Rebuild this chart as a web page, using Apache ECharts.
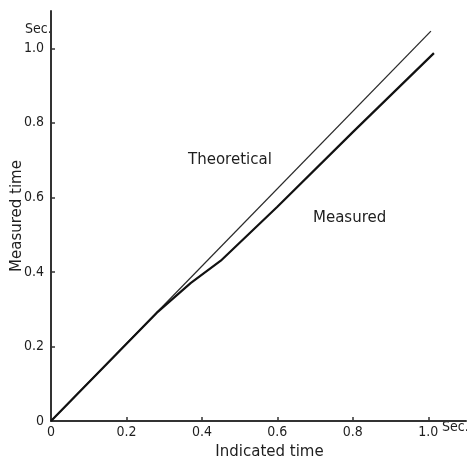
<!DOCTYPE html>
<html>
<head>
<meta charset="utf-8">
<script src="https://cdn.jsdelivr.net/npm/echarts@6/dist/echarts.min.js"></script>
<style>
html,body{margin:0;padding:0;background:#fff;}
#chart{width:467px;height:458px;}
</style>
</head>
<body>
<div id="chart"></div>
<script>
// Data
var xTicks = [0, 0.2, 0.4, 0.6, 0.8, 1.0];
var yTicks = [0.2, 0.4, 0.6, 0.8, 1.0];
var theoreticalX = [0, 1.007];
var theoreticalY = [0, 1.046];
var measuredX = [0, 0.28, 0.37, 0.45, 0.60, 0.80, 1.015];
var measuredY = [0, 0.29, 0.37, 0.43, 0.575, 0.775, 0.987];

function pairs(xs, ys) { return xs.map(function (x, i) { return [x, ys[i]]; }); }

var ink = '#1e1e1e';
var font = '"DejaVu Sans Condensed", "Liberation Sans Narrow", "DejaVu Sans", sans-serif';
var wideFont = '"DejaVu Sans", sans-serif';

var chart = echarts.init(document.getElementById('chart'));
chart.setOption({
  animation: false,
  backgroundColor: '#ffffff',
  grid: { left: 51, right: 1, top: 11, bottom: 37, containLabel: false, outerBoundsMode: 'none' },
  xAxis: {
    type: 'value', min: 0, max: 1.1,
    name: 'Indicated time', nameLocation: 'middle', nameGap: 24, nameMoveOverlap: false,
    nameTextStyle: { color: ink, fontSize: 15, fontFamily: wideFont, padding: [0, 0, 0, 22] },
    axisLine: { lineStyle: { color: '#333', width: 2 } },
    axisTick: { show: true, inside: true, length: 4, customValues: xTicks, lineStyle: { color: '#333', width: 1.5 } },
    axisLabel: { customValues: xTicks, color: ink, fontSize: 14, fontFamily: font, margin: 4,
      formatter: function (v) { return v === 0 ? '0' : v.toFixed(1); } },
    splitLine: { show: false }
  },
  yAxis: {
    type: 'value', min: 0, max: 1.1,
    name: 'Measured time', nameLocation: 'middle', nameGap: 26, nameMoveOverlap: false,
    nameTextStyle: { color: ink, fontSize: 15, fontFamily: wideFont },
    axisLine: { lineStyle: { color: '#333', width: 2 } },
    axisTick: { show: true, inside: true, length: 4, customValues: yTicks, lineStyle: { color: '#333', width: 1.5 } },
    axisLabel: { customValues: [0].concat(yTicks), color: ink, fontSize: 14, fontFamily: font, margin: 7,
      formatter: function (v) { return v === 0 ? '0' : v.toFixed(1); } },
    splitLine: { show: false }
  },
  graphic: [
    { type: 'text', left: 25, top: 22, style: { text: 'Sec.', fill: ink, fontSize: 14, fontFamily: font } },
    { type: 'text', left: 442, top: 420, style: { text: 'Sec.', fill: ink, fontSize: 14, fontFamily: font } },
    { type: 'text', left: 188, top: 153, style: { text: 'Theoretical', fill: ink, fontSize: 15, fontFamily: wideFont } },
    { type: 'text', left: 313, top: 211, style: { text: 'Measured', fill: ink, fontSize: 15, fontFamily: wideFont } }
  ],
  series: [
    { name: 'Theoretical', type: 'line', data: pairs(theoreticalX, theoreticalY), showSymbol: false,
      lineStyle: { color: '#2a2a2a', width: 1.3 } },
    { name: 'Measured', type: 'line', data: pairs(measuredX, measuredY), showSymbol: false,
      lineStyle: { color: '#111', width: 2.2 } }
  ]
});
</script>
</body>
</html>
